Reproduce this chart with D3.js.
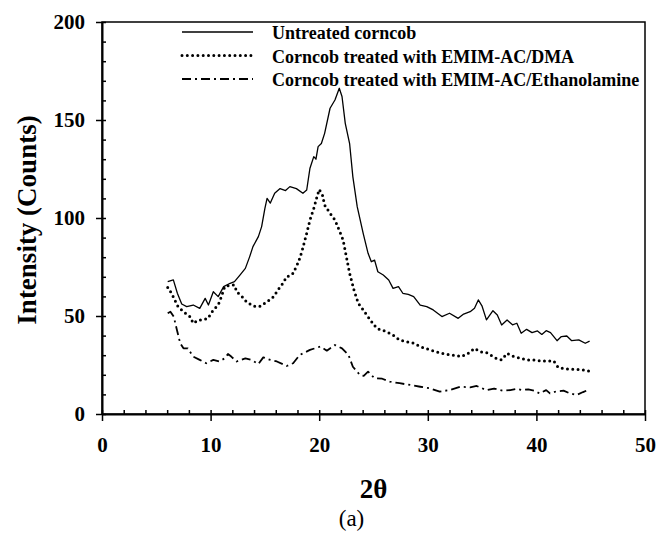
<!DOCTYPE html>
<html>
<head>
<meta charset="utf-8">
<script src="https://cdn.jsdelivr.net/npm/d3@7"></script>
<style>
  body { margin: 0; background: #fff; }
  text { font-family: "Liberation Serif", "Times New Roman", serif; }
</style>
</head>
<body>
<div id="chart"></div>
<script>
// data (2 theta, counts)
var untreatedX = [6.05,6.57,6.94,7.34,7.8,8.4,9.0,9.5,9.8,10.25,10.7,11.2,11.8,12.2,12.7,13.2,13.6,13.9,14.4,14.7,15.0,15.2,15.5,15.9,16.4,16.9,17.3,17.9,18.5,18.85,19.15,19.5,19.7,19.9,20.2,20.5,21.0,21.45,21.85,22.1,22.4,22.8,23.1,23.5,24.05,24.5,24.8,25.1,25.4,25.9,26.4,26.8,27.3,27.7,28.2,28.7,29.3,29.9,30.5,31.3,32.0,32.8,33.3,33.9,34.3,34.65,35.0,35.4,36.0,36.4,36.8,37.3,37.8,38.2,38.6,39.1,39.6,40.1,40.5,40.9,41.3,41.9,42.3,42.8,43.25,43.9,44.5,44.9];
var untreatedY = [67.5,68.4,61.6,56.1,54.8,55.6,53.9,59,55.6,62.4,59.9,65,66.7,67.5,70.9,74.3,80.3,85.4,90.5,95.6,104.9,110,107.6,112.6,115,114,116,115,112.6,114.3,125.4,131.3,130,136.4,138,143.2,156,160.2,166.2,162,148.3,138,121,105.8,92.2,82,77.7,78.5,72.6,70.9,68.4,64.1,65,61.6,61,59.9,55.6,54.8,53.1,49.7,51.4,48.8,51,52.2,54,58.2,55,48,52.7,50.5,45.4,48,45.5,46.3,41.2,43.2,41.5,42.4,40.6,42.5,41.5,37.4,39.5,39.8,37.4,37.8,36.1,37.2];

var dmaX = [6.05,6.4,6.7,7.0,7.5,8.1,8.4,8.9,9.3,9.75,10.25,10.7,11.0,11.3,11.8,12.2,12.4,12.9,13.3,13.9,14.5,15.2,15.8,16.2,16.7,17.0,17.3,17.6,18.1,18.4,18.85,19.15,19.5,19.8,20.0,20.3,20.5,21.0,21.45,21.9,22.2,22.5,22.8,23.2,23.6,24.05,24.7,25.3,26.2,26.8,27.4,28.05,28.7,29.3,30.2,31.3,32.2,33.1,33.7,34.3,34.8,35.4,36.3,36.8,37.3,37.8,38.6,39.1,39.8,40.5,41.2,41.6,42.0,42.6,43.5,44.5,44.9];
var dmaY = [64.6,61.6,58.2,54.8,52.2,49.7,46.3,48,48,48.8,53.1,55.6,59.9,65,65.8,65.8,62.4,59.9,57.3,55.1,54.8,57.3,59.9,63.3,67,70.1,70.5,71.8,77.7,82.8,92.2,99,104.9,110.9,114.6,111.7,106.6,102.4,99,93,88.8,80.3,71.8,63.3,56.5,53.1,48,43.7,42,40.3,37.8,36.9,36.1,34.4,32.7,30.9,30.1,29.3,30.9,33.5,31.8,31.3,28.4,27.6,30.9,29.5,28.4,27.6,27.6,27,27,27,23.8,23,22.8,22.4,21.8];

var ethX = [6.05,6.3,6.6,6.9,7.2,7.5,7.9,8.4,9.0,9.6,10.25,10.8,11.3,11.6,11.9,12.4,13.2,13.8,14.4,14.85,15.5,16.1,17.0,17.6,18.2,19.15,20.1,20.7,21.45,22.1,22.7,23.1,23.75,24.1,24.5,25.1,25.8,26.5,27.4,28.4,29.3,30.2,31.1,32.0,33.0,33.9,34.5,35.4,36.1,36.9,37.6,38.2,38.7,39.25,39.8,40.3,40.9,41.25,41.8,42.5,43.1,43.7,44.3,44.9];
var ethY = [51.4,52.2,49.7,42.9,36.1,33.5,33.5,29.3,27.6,25.9,27.6,26.8,28.4,30.6,29.3,26.8,28.4,27.5,25.5,28.9,27.6,26.8,24.5,25.9,30.1,32.7,34.4,32.3,35.2,33.5,30.1,24.1,19.9,19.5,21.6,18.2,18,16.5,15.7,14.8,13.9,13.1,11.4,12.2,13.9,13.6,14.3,12.2,13,11.9,12.2,12.8,12.2,12.6,11.9,10.5,12.2,10.5,11.5,11.9,10.5,9.7,11.2,12.6];

var seriesNames = ["Untreated corncob", "Corncob treated with EMIM-AC/DMA", "Corncob treated with EMIM-AC/Ethanolamine"];
var xTicks = [0, 10, 20, 30, 40, 50];
var yTicks = [0, 50, 100, 150, 200];

var margin = {top: 22, right: 12, bottom: 120, left: 102},
    width = 657 - margin.left - margin.right,
    height = 534 - margin.top - margin.bottom;

var svg = d3.select("#chart")
  .append("svg")
    .attr("width", 657)
    .attr("height", 534)
  .append("g")
    .attr("transform", "translate(" + margin.left + "," + margin.top + ")");

var x = d3.scaleLinear().domain([0, 50]).range([0, width]);
var y = d3.scaleLinear().domain([0, 200]).range([height, 0]);

// frame
svg.append("rect")
  .attr("width", width).attr("height", height)
  .attr("fill", "none").attr("stroke", "#000").attr("stroke-width", 1.5);

// minor ticks point inward
var yMinor = svg.append("g")
  .call(d3.axisRight(y).tickValues(d3.range(0, 201, 10)).tickSize(4).tickFormat(""));
yMinor.select(".domain").remove();
var xMinor = svg.append("g")
  .attr("transform", "translate(0," + height + ")")
  .call(d3.axisTop(x).tickValues(d3.range(0, 51, 2)).tickSize(4).tickFormat(""));
xMinor.select(".domain").remove();

// major axes, ticks outward
var yAxis = svg.append("g")
  .call(d3.axisLeft(y).tickValues(yTicks).tickSize(6).tickPadding(11).tickSizeOuter(0));
var xAxis = svg.append("g")
  .attr("transform", "translate(0," + height + ")")
  .call(d3.axisBottom(x).tickValues(xTicks).tickSize(7).tickPadding(16).tickSizeOuter(0));

svg.selectAll(".tick line").attr("stroke-width", 1.5);
svg.selectAll(".domain").attr("stroke-width", 2);
svg.selectAll(".tick text")
  .style("font-family", "'Liberation Serif', 'Times New Roman', serif")
  .style("font-size", "21px")
  .style("font-weight", "bold")
  .attr("fill", "#000");

// lines
var styles = [
  {w: 1.3, dash: null, cap: "butt"},
  {w: 3, dash: "0 5.3", cap: "round"},
  {w: 1.8, dash: "9 4 2 4", cap: "butt"}
];
var data = [
  d3.zip(untreatedX, untreatedY),
  d3.zip(dmaX, dmaY),
  d3.zip(ethX, ethY)
];
var line = d3.line().x(function(d) { return x(d[0]); }).y(function(d) { return y(d[1]); });

data.forEach(function(s, i) {
  svg.append("path")
    .datum(s)
    .attr("d", line)
    .attr("fill", "none")
    .attr("stroke", "#000")
    .attr("stroke-width", styles[i].w)
    .attr("stroke-linecap", styles[i].cap)
    .attr("stroke-linejoin", "round")
    .attr("stroke-dasharray", styles[i].dash);
});

// legend
var legend = svg.append("g").attr("transform", "translate(80,10)");
seriesNames.forEach(function(name, i) {
  var g = legend.append("g").attr("transform", "translate(0," + (i * 23.5) + ")");
  g.append("line")
    .attr("x1", 0).attr("x2", 71)
    .attr("stroke", "#000")
    .attr("stroke-width", styles[i].w)
    .attr("stroke-linecap", styles[i].cap)
    .attr("stroke-dasharray", styles[i].dash);
  g.append("text")
    .attr("x", 90).attr("y", 7)
    .style("font-size", "18px").style("font-weight", "bold")
    .text(name);
});

// axis titles
svg.append("text")
  .attr("transform", "translate(" + (-66) + "," + (height / 2 + 2) + ")rotate(-90)")
  .attr("text-anchor", "middle")
  .style("font-size", "27px").style("font-weight", "bold")
  .text("Intensity (Counts)");

svg.append("text")
  .attr("x", width / 2).attr("y", height + 84)
  .attr("text-anchor", "middle")
  .style("font-size", "27px").style("font-weight", "bold")
  .text("2θ");

svg.append("text")
  .attr("x", width / 2 - 22).attr("y", height + 112)
  .attr("text-anchor", "middle")
  .style("font-size", "23px")
  .text("(a)");
</script>
</body>
</html>
